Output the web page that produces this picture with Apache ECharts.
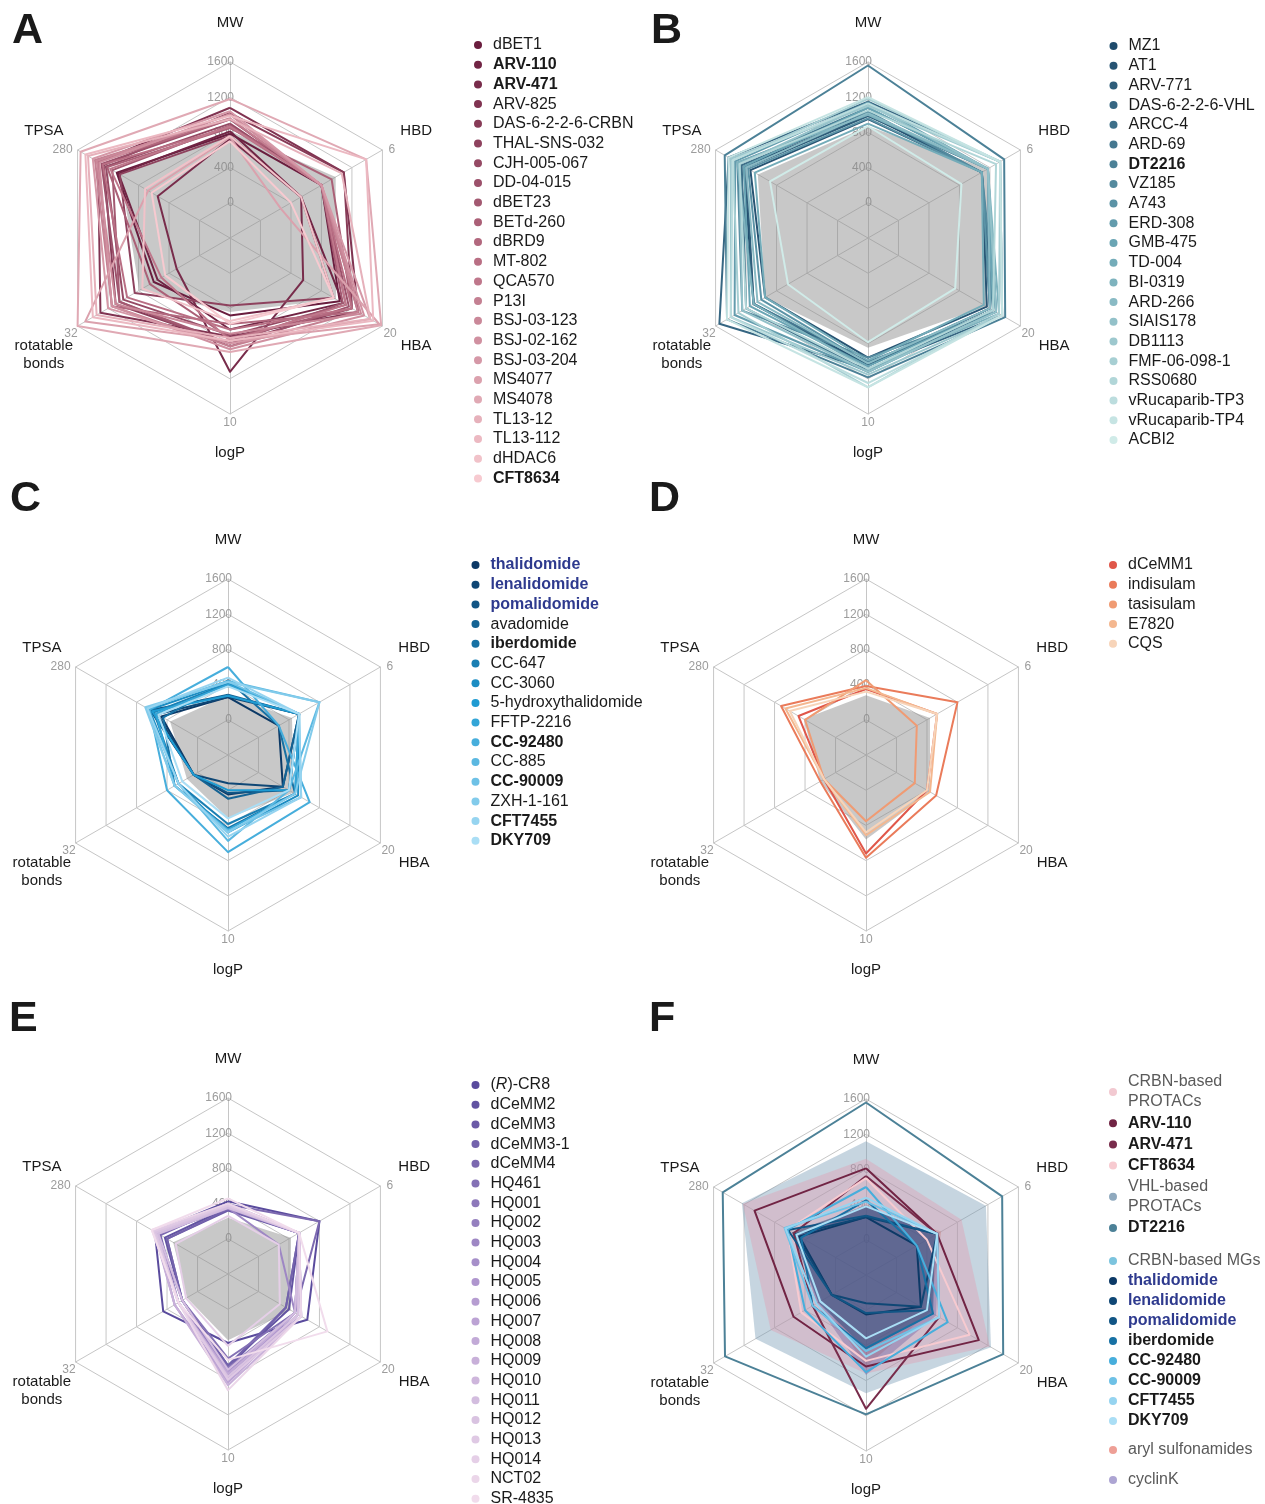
<!DOCTYPE html>
<html>
<head>
<meta charset="utf-8">
<script src="https://cdn.jsdelivr.net/npm/echarts@6/dist/echarts.min.js"></script>
<style>
html, body { margin: 0; padding: 0; background: #fff; }
#chart { width: 1265px; height: 1504px; }
</style>
</head>
<body>
<div id="chart"></div>
<script>
const FONT = '"Liberation Sans", Arial, Helvetica, sans-serif';

// every row: MW, HBD, HBA, logP, rotatable bonds, TPSA
const namesA = ['dBET1', 'ARV-110', 'ARV-471', 'ARV-825', 'DAS-6-2-2-6-CRBN', 'THAL-SNS-032', 'CJH-005-067',
    'DD-04-015', 'dBET23', 'BETd-260', 'dBRD9', 'MT-802', 'QCA570', 'P13I', 'BSJ-03-123', 'BSJ-02-162',
    'BSJ-03-204', 'MS4077', 'MS4078', 'TL13-12', 'TL13-112', 'dHDAC6', 'CFT8634'];
const valuesA = [
    [785, 3, 13, 3.0, 12, 190], [812, 2, 13.5, 4.0, 11, 186], [724, 2, 7, 7.0, 6, 96],
    [1080, 4.1, 16, 4.5, 26, 233], [1020, 4.1, 15, 5.0, 22, 220], [760, 2, 12, 2.3, 17, 183],
    [900, 3, 14, 4.4, 20, 215], [950, 3, 14.5, 5.2, 21, 225], [880, 3, 13.5, 5.0, 21, 200],
    [850, 3.5, 15, 4.6, 13, 212], [950, 3, 16, 3.6, 23, 232], [860, 3, 15, 4.0, 19, 222],
    [870, 3, 14, 4.8, 10, 205], [960, 3, 16, 5.2, 23, 240], [1000, 3, 16.5, 4.3, 22, 236],
    [1010, 3, 17, 5.4, 23, 230], [1040, 3, 18, 5.0, 24, 245], [745, 1, 19.5, 4.8, 30, 118],
    [1180, 5.2, 19.8, 5.6, 32, 273], [950, 4, 18, 4.6, 27, 256], [990, 5.2, 18.5, 4.8, 28, 262],
    [760, 2, 12, 3.4, 15, 125], [700, 1.5, 12, 3.6, 9, 110]
];
const grayA = [815, 3.7, 12.4, 2.75, 15.8, 181];

const namesB = ['MZ1', 'AT1', 'ARV-771', 'DAS-6-2-2-6-VHL', 'ARCC-4', 'ARD-69', 'DT2216', 'VZ185', 'A743',
    'ERD-308', 'GMB-475', 'TD-004', 'BI-0319', 'ARD-266', 'SIAIS178', 'DB1113', 'FMF-06-098-1', 'RSS0680',
    'vRucaparib-TP3', 'vRucaparib-TP4', 'ACBI2'];
const valuesB = [
    [1000, 4.1, 15, 6.5, 22, 215], [950, 4.1, 14.5, 6.0, 19, 200], [985, 4.4, 15, 6.6, 22, 210],
    [1150, 5.0, 17, 6.8, 31, 250], [1025, 4.1, 15.5, 7.0, 24, 220], [1080, 4.4, 16, 6.3, 22, 225],
    [1560, 5.2, 17.5, 7.4, 29, 259], [1040, 4.1, 16, 6.0, 25, 230], [960, 4.1, 15, 6.4, 20, 205],
    [1140, 4.4, 16, 7.0, 27, 235], [1080, 4.4, 15.5, 6.6, 23, 215], [900, 4.1, 14, 6.2, 19, 190],
    [1000, 4.4, 16.5, 6.8, 22, 230], [1020, 4.4, 15, 6.4, 21, 210], [1120, 4.4, 16, 7.0, 25, 225],
    [1100, 5.0, 17, 7.2, 28, 245], [1180, 5.0, 16.5, 8.1, 26, 240], [1050, 4.8, 15.5, 6.8, 24, 225],
    [1130, 5.0, 17, 7.8, 28, 240], [1200, 5.0, 17, 8.1, 29, 250], [870, 3.1, 9.3, 4.9, 13, 155]
];
const grayB = [870, 4.4, 14.4, 5.3, 19, 183];

const namesC = ['thalidomide', 'lenalidomide', 'pomalidomide', 'avadomide', 'iberdomide', 'CC-647', 'CC-3060',
    '5-hydroxythalidomide', 'FFTP-2216', 'CC-92480', 'CC-885', 'CC-90009', 'ZXH-1-161', 'CFT7455', 'DKY709'];
const valuesC = [
    [258, 1, 4, 0.3, 1, 83], [259, 2, 4, -0.5, 1, 92], [273, 2, 5, 0.2, 1, 109],
    [286, 2, 4, 0.6, 1, 105], [449, 1, 6, 2.7, 6, 79], [410, 2, 6, 2.4, 5, 100],
    [420, 2, 6.5, 3.0, 5, 110], [274, 2, 5, 0.0, 1, 104], [400, 2, 6, 2.8, 6, 95],
    [600, 1, 8.4, 4.4, 8, 110], [441, 3, 5, 3.6, 5, 117], [434, 2, 7, 2.9, 6, 117],
    [430, 3, 6, 3.0, 6, 120], [480, 2, 7, 3.3, 5, 115], [380, 2, 5, 2.0, 4, 90]
];
const grayC = [280, 1.65, 5.75, 2.0, 2.8, 63];

const namesD = ['dCeMM1', 'indisulam', 'tasisulam', 'E7820', 'CQS'];
const valuesD = [
    [350, 2, 5, 4.5, 3, 85], [385, 3, 6.5, 4.8, 4, 125], [450, 1, 3, 2.2, 3, 70],
    [360, 2, 5.5, 3.2, 3, 115], [320, 2, 5, 3.0, 3, 105]
];
const grayD = [280, 1.65, 5.5, 3.5, 4, 73];

const namesE = ['(R)-CR8', 'dCeMM2', 'dCeMM3', 'dCeMM3-1', 'dCeMM4', 'HQ461', 'HQ001', 'HQ002', 'HQ003',
    'HQ004', 'HQ005', 'HQ006', 'HQ007', 'HQ008', 'HQ009', 'HQ010', 'HQ011', 'HQ012', 'HQ013', 'HQ014',
    'NCT02', 'SR-4835'];
const valuesE = [
    [426, 3, 8, 2.4, 9, 98], [350, 2, 5, 4.0, 4, 75], [320, 2, 4.5, 4.2, 4, 70],
    [335, 2, 4.5, 4.0, 4, 70], [390, 3, 6, 4.5, 5, 85], [340, 2, 6, 3.5, 4, 92],
    [360, 2, 6, 4.2, 5, 95], [370, 2, 6.5, 4.6, 5, 100], [350, 1, 6, 4.4, 4, 90],
    [380, 2, 7, 4.8, 5, 95], [390, 2, 6, 5.0, 6, 98], [360, 2, 7, 4.5, 5, 100],
    [400, 2, 6.5, 5.2, 6, 95], [370, 2, 6, 4.6, 5, 92], [380, 2, 7, 5.4, 6, 100],
    [390, 2, 6.5, 5.0, 5, 98], [350, 2, 6, 4.3, 4, 90], [370, 2, 6.5, 4.8, 5, 95],
    [380, 2, 7, 5.0, 5, 100], [260, 1, 3.5, 2.6, 3, 50], [400, 2, 7, 5.75, 5, 105],
    [460, 2, 11.3, 3.6, 5, 105]
];
const grayE = [240, 1.6, 5.3, 2.2, 2.8, 56];

// panel F: class areas, then selected compounds as lines
const groupsF = ['VHL-based PROTACs', 'CRBN-based PROTACs', 'aryl sulfonamides', 'cyclinK', 'CRBN-based MGs'];
const areasF = [
    [1120, 4.4, 15.5, 5.9, 21, 215],
    [920, 3.2, 15.3, 4.5, 17, 213],
    [370, 2.2, 5.5, 4.0, 3.5, 100],
    [380, 2.1, 6.5, 4.6, 5, 92],
    [390, 1.9, 6, 2.8, 4.5, 100]
];
const linesF = ['DT2216', 'ARV-110', 'ARV-471', 'CFT8634', 'thalidomide', 'lenalidomide', 'pomalidomide',
    'iberdomide', 'CC-92480', 'CC-90009', 'CFT7455', 'DKY709'];

const boldNames = ['ARV-110', 'ARV-471', 'CFT8634', 'DT2216', 'iberdomide', 'CC-92480', 'CC-90009', 'CFT7455', 'DKY709'];
const navyNames = ['thalidomide', 'lenalidomide', 'pomalidomide'];

// radar axes, counter-clockwise from the top
const axisDefs = [
    {key: 0, name: 'MW', min: -400, max: 1600},
    {key: 5, name: 'TPSA', min: -70, max: 280},
    {key: 4, name: '\nrotatable\nbonds', min: -8, max: 32},
    {key: 3, name: 'logP', min: -2.5, max: 10},
    {key: 2, name: 'HBA', min: -5, max: 20},
    {key: 1, name: 'HBD', min: -1.5, max: 6}
];
const labelPlace = [
    {align: 'right', verticalAlign: 'middle', padding: [0, 0, 9, 0], margin: -4},
    {align: 'right', verticalAlign: 'middle', padding: [0, 5, 6, 0], margin: 0},
    {align: 'right', verticalAlign: 'top', padding: [2, 0, 0, 0], margin: 0},
    {align: 'center', verticalAlign: 'top', padding: [3, 0, 0, 0], margin: 0},
    {align: 'left', verticalAlign: 'top', padding: [2, 0, 0, 1], margin: 0},
    {align: 'left', verticalAlign: 'middle', padding: [0, 0, 6, 6], margin: 0}
];

function toAxes(row) {
    return axisDefs.map(function (d) { return row[d.key]; });
}

function hex(c) {
    return [parseInt(c.slice(1, 3), 16), parseInt(c.slice(3, 5), 16), parseInt(c.slice(5, 7), 16)];
}
function ramp(stops, n) {
    const out = [];
    for (let i = 0; i < n; i++) {
        const t = n === 1 ? 0 : i / (n - 1) * (stops.length - 1);
        const k = Math.min(Math.floor(t), stops.length - 2);
        const a = hex(stops[k]), b = hex(stops[k + 1]), f = t - k;
        out.push('rgb(' + a.map(function (v, j) { return Math.round(v + (b[j] - v) * f); }).join(',') + ')');
    }
    return out;
}

const panels = [
    {names: namesA, values: valuesA, gray: grayA, center: [230, 238], colors: ramp(['#6a1d3e', '#b96f84', '#f7cad0'], namesA.length)},
    {names: namesB, values: valuesB, gray: grayB, center: [868, 238], colors: ramp(['#1f4b6c', '#6aa5b4', '#d0ebe8'], namesB.length)},
    {names: namesC, values: valuesC, gray: grayC, center: [228, 755], colors: ramp(['#0c3966', '#1f9bd2', '#aadef5'], namesC.length)},
    {names: namesD, values: valuesD, gray: grayD, center: [866, 755], colors: ['#e0574a', '#ea7b5a', '#f09b73', '#f4b78f', '#f7d4b9']},
    {names: namesE, values: valuesE, gray: grayE, center: [228, 1274], colors: ramp(['#5a4b9d', '#b39ad0', '#f1dcec'], namesE.length)}
];
const centerF = [866, 1275];

const colorOf = {};
const valueOf = {};
panels.forEach(function (p) {
    p.names.forEach(function (n, k) { colorOf[n] = p.colors[k]; valueOf[n] = p.values[k]; });
});

function makeRadar(center) {
    return {
        center: center,
        radius: 176,
        startAngle: 90,
        shape: 'polygon',
        splitNumber: 5,
        nameGap: 39,
        axisName: {color: '#1a1a1a', fontSize: 15, fontFamily: FONT, align: 'center', verticalAlign: 'middle', lineHeight: 18},
        indicator: axisDefs.map(function (d, i) {
            return {
                name: d.name, min: d.min, max: d.max,
                nameMoveOverlap: false,
                axisLabel: {
                    align: labelPlace[i].align,
                    verticalAlign: labelPlace[i].verticalAlign,
                    padding: labelPlace[i].padding,
                    margin: labelPlace[i].margin,
                    formatter: function (v) {
                        if (i === 0) return v >= 0 ? String(v) : '';
                        return Math.abs(v - d.max) < 1e-6 ? String(d.max) : '';
                    }
                }
            };
        }),
        axisLine: {lineStyle: {color: '#c6c6c6', width: 1}},
        splitLine: {lineStyle: {color: '#c6c6c6', width: 1}},
        splitArea: {show: false},
        axisTick: {show: false},
        axisLabel: {show: true, color: '#9c9c9c', fontSize: 12, fontFamily: FONT}
    };
}

const series = [];
panels.forEach(function (p, i) {
    series.push({
        type: 'radar', radarIndex: i, name: 'gray' + i, symbol: 'none', silent: true,
        lineStyle: {width: 0, opacity: 0},
        areaStyle: {color: '#8c8c8c', opacity: 0.48},
        data: [{name: 'gray' + i, value: toAxes(p.gray)}]
    });
    p.names.forEach(function (name, k) {
        series.push({
            type: 'radar', radarIndex: i, name: name, symbol: 'none', silent: true,
            itemStyle: {color: p.colors[k]},
            lineStyle: {color: p.colors[k], width: 2},
            data: [{name: name, value: toAxes(p.values[k])}]
        });
    });
});

// legend dot colour, area colour and area opacity of each class in panel F
const areaLook = {
    'VHL-based PROTACs': ['#8fa9be', '#789bb4', 0.42],
    'CRBN-based PROTACs': ['#f2c9d1', '#e696aa', 0.35],
    'aryl sulfonamides': ['#ee9f96', '#c0675e', 0.3],
    'cyclinK': ['#ada5d3', '#5b4f9a', 0.35],
    'CRBN-based MGs': ['#7cc4de', '#1c4a80', 0.5]
};
groupsF.forEach(function (g, k) {
    series.push({
        type: 'radar', radarIndex: 5, name: g, symbol: 'none', silent: true,
        itemStyle: {color: areaLook[g][0]},
        lineStyle: {width: 0, opacity: 0},
        areaStyle: {color: areaLook[g][1], opacity: areaLook[g][2]},
        data: [{name: g, value: toAxes(areasF[k])}]
    });
});
linesF.forEach(function (name) {
    series.push({
        type: 'radar', radarIndex: 5, name: name, symbol: 'none', silent: true,
        itemStyle: {color: colorOf[name]},
        lineStyle: {color: colorOf[name], width: 2},
        data: [{name: name, value: toAxes(valueOf[name])}]
    });
});

const groupLabels = {
    'CRBN-based PROTACs': '{g|CRBN-based}\n{g|PROTACs}',
    'VHL-based PROTACs': '{g|VHL-based}\n{g|PROTACs}',
    'CRBN-based MGs': '{g|CRBN-based MGs}',
    'aryl sulfonamides': '{g|aryl sulfonamides}',
    'cyclinK': '{g|cyclinK}'
};
function legendLabel(name) {
    if (groupLabels[name]) return groupLabels[name];
    if (navyNames.indexOf(name) >= 0) return '{n|' + name + '}';
    if (boldNames.indexOf(name) >= 0) return '{b|' + name + '}';
    if (name === '(R)-CR8') return '({i|R})-CR8';
    return name;
}
function legend(data, left, top, gap, lh) {
    const rich = {
        b: {fontFamily: FONT, fontSize: 16, lineHeight: lh, fontWeight: 'bold', color: '#1a1a1a'},
        n: {fontFamily: FONT, fontSize: 16, lineHeight: lh, fontWeight: 'bold', color: '#2e3a8e'},
        i: {fontFamily: FONT, fontSize: 16, lineHeight: lh, fontStyle: 'italic', color: '#1a1a1a'},
        g: {fontFamily: FONT, fontSize: 16, lineHeight: 20, color: '#5a5a5a'}
    };
    return {
        orient: 'vertical', left: left, top: top, height: 600, itemGap: gap, padding: 0,
        icon: 'circle', itemWidth: 20, itemHeight: 8, selectedMode: false,
        data: data, formatter: legendLabel,
        textStyle: {fontFamily: FONT, fontSize: 16, lineHeight: lh, color: '#1a1a1a', rich: rich}
    };
}

const letters = [['A', 12, 10], ['B', 651, 10], ['C', 10, 478], ['D', 649, 478], ['E', 9, 998], ['F', 649, 998]];

const chart = echarts.init(document.getElementById('chart'));
chart.setOption({
    animation: false,
    backgroundColor: '#fff',
    title: letters.map(function (l) {
        return {text: l[0], left: l[1], top: l[2], padding: 0,
            textStyle: {fontFamily: FONT, fontSize: 43, fontWeight: 'bold', color: '#1a1a1a'}};
    }),
    radar: panels.map(function (p) { return makeRadar(p.center); }).concat([makeRadar(centerF)]),
    legend: [
        legend(namesA, 474, 36.5, 2.7, 17),
        legend(namesB, 1109.5, 37.5, 2.7, 17),
        legend(namesC, 471.5, 556.5, 2.7, 17),
        legend(namesD, 1109, 556.5, 2.7, 17),
        legend(namesE, 471.5, 1076.5, 2.7, 17),
        legend(['CRBN-based PROTACs', 'ARV-110', 'ARV-471', 'CFT8634', 'VHL-based PROTACs', 'DT2216'], 1109, 1072, 1.2, 20),
        legend(['CRBN-based MGs', 'thalidomide', 'lenalidomide', 'pomalidomide', 'iberdomide', 'CC-92480',
            'CC-90009', 'CFT7455', 'DKY709'], 1109, 1251, 0, 20),
        legend(['aryl sulfonamides', 'cyclinK'], 1109, 1440, 10, 20)
    ],
    series: series
});
</script>
</body>
</html>
